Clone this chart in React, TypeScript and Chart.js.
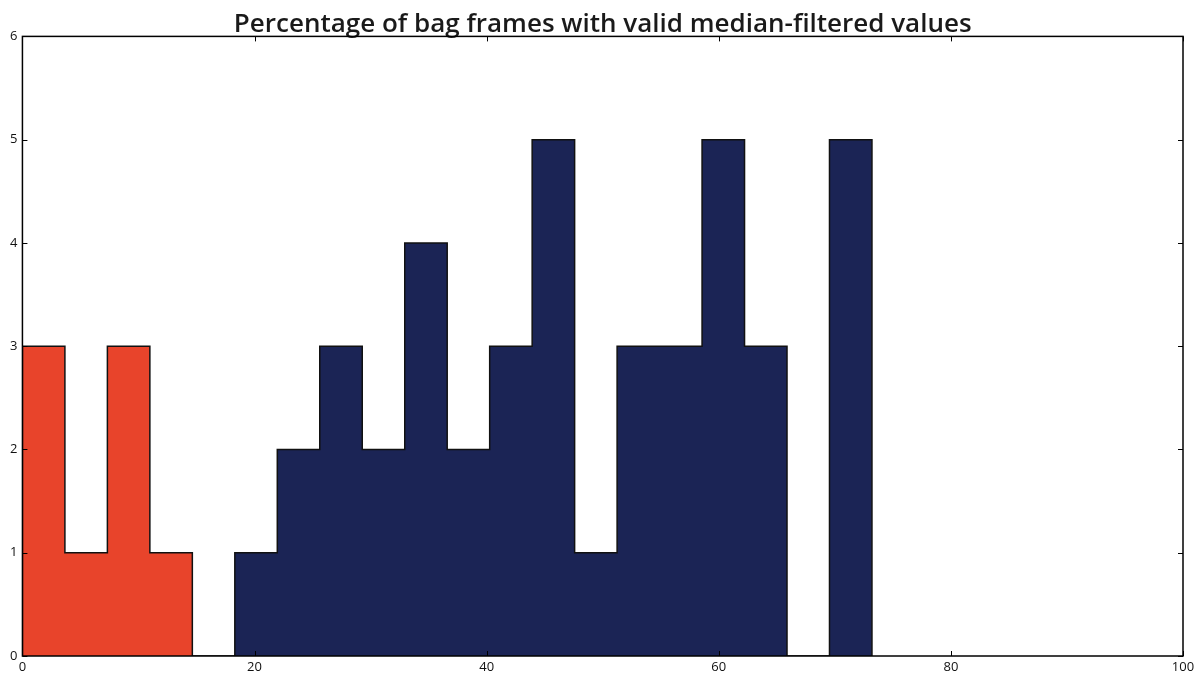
import React, { useEffect, useRef } from "react";
import { Chart, registerables } from "chart.js";

Chart.register(...registerables);

// Histogram bin edges (percentage of valid frames)
const binEdges = [
  0, 3.66, 7.32, 10.98, 14.64, 18.3, 21.96, 25.62, 29.28, 32.94, 36.6,
  40.26, 43.92, 47.58, 51.24, 54.9, 58.56, 62.22, 65.88, 69.54, 73.2,
];

// Counts per bin: first group (bins 0-3) and second group (bins 4-19)
const lowCounts = [3, 1, 3, 1];
const highCounts = [0, 1, 2, 3, 2, 4, 2, 3, 5, 1, 3, 3, 5, 3, 0, 5];
const lowStart = 0;
const highStart = 4;

const xTickMax = 100;
const xTickStep = 20;
const yTickMax = 6;
const yTickStep = 1;

const titleText = "Percentage of bag frames with valid median-filtered values";

// Build the closed step outline of a histogram segment
function stepOutline(start: number, counts: number[]) {
  const pts: { x: number; y: number }[] = [{ x: binEdges[start], y: 0 }];
  counts.forEach((c, i) => pts.push({ x: binEdges[start + i], y: c }));
  const end = binEdges[start + counts.length];
  pts.push({ x: end, y: counts[counts.length - 1] });
  pts.push({ x: end, y: 0 });
  return pts;
}

// Box frame plus inward-pointing ticks on all four sides
const frameTicks = {
  id: "frameTicks",
  afterDatasetsDraw(chart: any) {
    const { ctx, chartArea, scales } = chart;
    const { left, right, top, bottom } = chartArea;
    const len = 5;
    ctx.save();
    ctx.strokeStyle = "#000";
    ctx.lineWidth = 1;
    scales.x.ticks.forEach((t: any) => {
      const px = Math.round(scales.x.getPixelForValue(t.value)) + 0.5;
      ctx.beginPath();
      ctx.moveTo(px, bottom);
      ctx.lineTo(px, bottom - len);
      ctx.moveTo(px, top);
      ctx.lineTo(px, top + len);
      ctx.stroke();
    });
    scales.y.ticks.forEach((t: any) => {
      const py = Math.round(scales.y.getPixelForValue(t.value)) + 0.5;
      ctx.beginPath();
      ctx.moveTo(left, py);
      ctx.lineTo(left + len, py);
      ctx.moveTo(right, py);
      ctx.lineTo(right - len, py);
      ctx.stroke();
    });
    ctx.lineWidth = 1.5;
    ctx.strokeRect(left, top, right - left, bottom - top);
    ctx.restore();
  },
};

export default function App() {
  const canvasRef = useRef<HTMLCanvasElement | null>(null);

  useEffect(() => {
    if (!canvasRef.current) return;
    const chart = new Chart(canvasRef.current, {
      type: "line",
      data: {
        datasets: [
          {
            data: stepOutline(lowStart, lowCounts),
            stepped: "before",
            fill: "origin",
            backgroundColor: "#e8442b",
            borderColor: "#111",
            borderWidth: 1.5,
            pointRadius: 0,
          },
          {
            data: stepOutline(highStart, highCounts),
            stepped: "before",
            fill: "origin",
            backgroundColor: "#1b2455",
            borderColor: "#111",
            borderWidth: 1.5,
            pointRadius: 0,
          },
        ],
      },
      options: {
        responsive: false,
        animation: false,
        devicePixelRatio: 1,
        layout: { padding: { left: 5, right: 17, top: 0, bottom: 0 } },
        plugins: {
          legend: { display: false },
          tooltip: { enabled: false },
          title: {
            display: true,
            fullSize: false,
            text: titleText,
            color: "#1a1a1a",
            font: { family: "Open Sans", size: 26, weight: "600", lineHeight: 0.9 },
            padding: { top: 13, bottom: 0 },
          },
        },
        scales: {
          x: {
            type: "linear",
            min: 0,
            max: xTickMax,
            grid: { display: false, drawTicks: false },
            border: { display: false },
            ticks: {
              stepSize: xTickStep,
              padding: 5,
              color: "#111",
              font: { family: "Open Sans", size: 13, lineHeight: 1.0 },
              maxRotation: 0,
            },
          },
          y: {
            min: 0,
            max: yTickMax,
            grid: { display: false, drawTicks: false },
            border: { display: false },
            ticks: {
              stepSize: yTickStep,
              padding: 5,
              color: "#111",
              font: { family: "Open Sans", size: 13, lineHeight: 1.0 },
            },
          },
        },
      },
      plugins: [frameTicks],
    });
    return () => chart.destroy();
  }, []);

  return (
    <div
      style={{
        position: "fixed",
        left: 0,
        top: 0,
        width: 1200,
        height: 679,
        background: "#fff",
      }}
    >
      <canvas ref={canvasRef} width={1200} height={679} />
    </div>
  );
}
